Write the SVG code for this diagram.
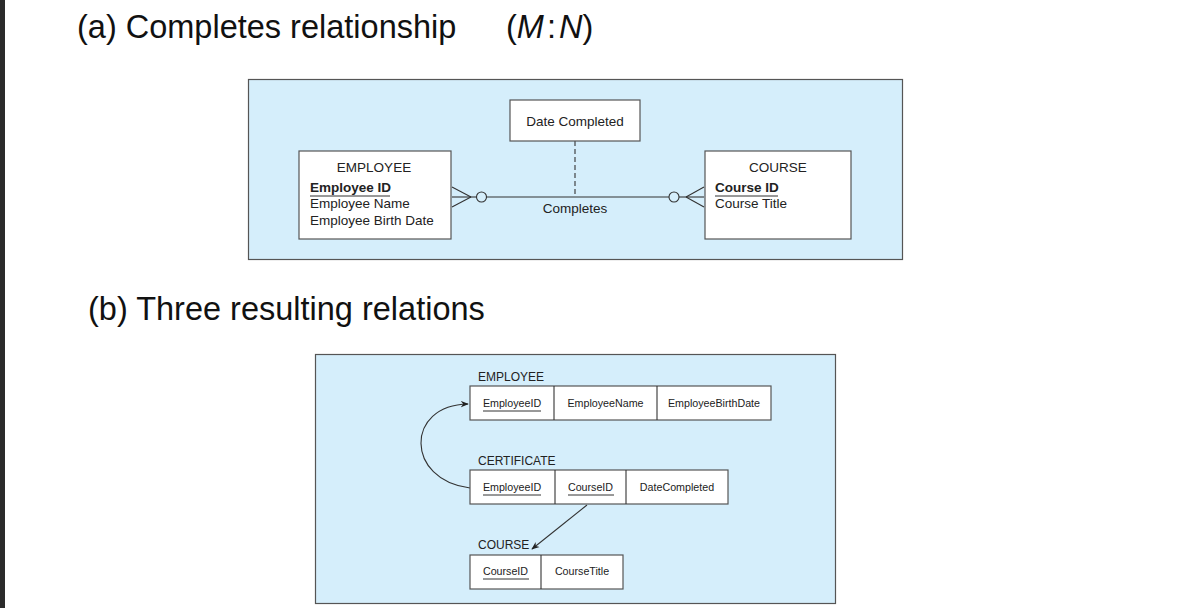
<svg xmlns="http://www.w3.org/2000/svg" width="1184" height="608" viewBox="0 0 1184 608">
<defs>
<style>
.title{font-family:"Liberation Sans",Arial,sans-serif;font-size:32.5px;fill:#111}
.panel{fill:#d5eefb;stroke:#555;stroke-width:1.2}
.box{fill:#fff;stroke:#555;stroke-width:1.2}
.t13{font-family:"Liberation Sans",Arial,sans-serif;font-size:13.5px;fill:#222}
.t12{font-family:"Liberation Sans",Arial,sans-serif;font-size:12px;fill:#222}
.t11{font-family:"Liberation Sans",Arial,sans-serif;font-size:10.7px;fill:#222}
.ln{stroke:#333;stroke-width:1.1;fill:none}
.ul{stroke:#333;stroke-width:1}
</style>
<marker id="arr" viewBox="0 0 10 10" refX="9" refY="5" markerWidth="8" markerHeight="8" markerUnits="userSpaceOnUse" orient="auto">
<path d="M0,1 L10,5 L0,9 L3,5 Z" fill="#222"/>
</marker>
</defs>
<rect x="0" y="0" width="1184" height="608" fill="#fff"/>
<rect x="0" y="0" width="5" height="608" fill="#2b2b2b"/>

<text class="title" x="77" y="38">(a) Completes relationship</text>
<text class="title" x="506" y="38">(<tspan font-style="italic">M</tspan><tspan dx="3">:</tspan><tspan dx="3" font-style="italic">N</tspan>)</text>
<text class="title" x="88" y="320">(b) Three resulting relations</text>

<rect class="panel" x="248.5" y="79.5" width="654" height="180"/>
<rect class="panel" x="315.5" y="354.5" width="520" height="249"/>

<g id="connectors">
<line class="ln" x1="452" y1="197" x2="476.5" y2="197"/>
<line class="ln" x1="486.5" y1="197" x2="669" y2="197"/>
<line class="ln" x1="679" y1="197" x2="704" y2="197"/>
<line class="ln" x1="452" y1="187" x2="471" y2="197"/>
<line class="ln" x1="452" y1="207" x2="471" y2="197"/>
<circle class="ln" cx="481.5" cy="197" r="5"/>
<line class="ln" x1="704" y1="187" x2="686" y2="197"/>
<line class="ln" x1="704" y1="207" x2="686" y2="197"/>
<circle class="ln" cx="674" cy="197" r="5"/>
<line class="ln" x1="575" y1="141" x2="575" y2="197" stroke-dasharray="5,3"/>
<path class="ln" d="M470,488 C405,480 405,405 468,404" marker-end="url(#arr)"/>
<line class="ln" x1="587" y1="505" x2="532" y2="549" marker-end="url(#arr)"/>
</g>

<g id="rel-label">
<text class="t13" x="575" y="213" text-anchor="middle">Completes</text>
</g>

<g id="date-completed">
<rect class="box" x="510" y="100" width="130" height="41"/>
<text class="t13" x="575" y="126" text-anchor="middle">Date Completed</text>
</g>

<g id="employee-entity">
<rect class="box" x="299" y="151" width="152" height="88"/>
<text class="t13" x="374" y="172" text-anchor="middle" font-size="15">EMPLOYEE</text>
<text class="t13" x="310" y="192" font-weight="bold">Employee ID</text>
<line class="ul" x1="310" y1="196" x2="390" y2="196"/>
<text class="t13" x="310" y="208">Employee Name</text>
<text class="t13" x="310" y="225">Employee Birth Date</text>
</g>

<g id="course-entity">
<rect class="box" x="705" y="151" width="146" height="88"/>
<text class="t13" x="778" y="172" text-anchor="middle" font-size="15">COURSE</text>
<text class="t13" x="715" y="192" font-weight="bold">Course ID</text>
<line class="ul" x1="715" y1="196" x2="778" y2="196"/>
<text class="t13" x="715" y="208">Course Title</text>
</g>

<g id="employee-relation">
<text class="t12" x="478" y="381">EMPLOYEE</text>
<rect class="box" x="470" y="386" width="301" height="34"/>
<line class="ln" x1="554" y1="386" x2="554" y2="420"/>
<line class="ln" x1="657" y1="386" x2="657" y2="420"/>
<text class="t11" x="512" y="407" text-anchor="middle">EmployeeID</text>
<line class="ul" x1="483" y1="411" x2="541" y2="411"/>
<text class="t11" x="605.5" y="407" text-anchor="middle">EmployeeName</text>
<text class="t11" x="714" y="407" text-anchor="middle">EmployeeBirthDate</text>
</g>

<g id="certificate-relation">
<text class="t12" x="478" y="465">CERTIFICATE</text>
<rect class="box" x="470" y="470" width="258" height="34"/>
<line class="ln" x1="555" y1="470" x2="555" y2="504"/>
<line class="ln" x1="626" y1="470" x2="626" y2="504"/>
<text class="t11" x="512" y="491" text-anchor="middle">EmployeeID</text>
<line class="ul" x1="483" y1="495" x2="541" y2="495"/>
<text class="t11" x="590.5" y="491" text-anchor="middle">CourseID</text>
<line class="ul" x1="568" y1="495" x2="614" y2="495"/>
<text class="t11" x="677" y="491" text-anchor="middle">DateCompleted</text>
</g>

<g id="course-relation">
<text class="t12" x="478" y="549">COURSE</text>
<rect class="box" x="470" y="555" width="153" height="34"/>
<line class="ln" x1="541" y1="555" x2="541" y2="589"/>
<text class="t11" x="505.5" y="575" text-anchor="middle">CourseID</text>
<line class="ul" x1="483" y1="579" x2="529" y2="579"/>
<text class="t11" x="582" y="575" text-anchor="middle">CourseTitle</text>
</g>
</svg>
